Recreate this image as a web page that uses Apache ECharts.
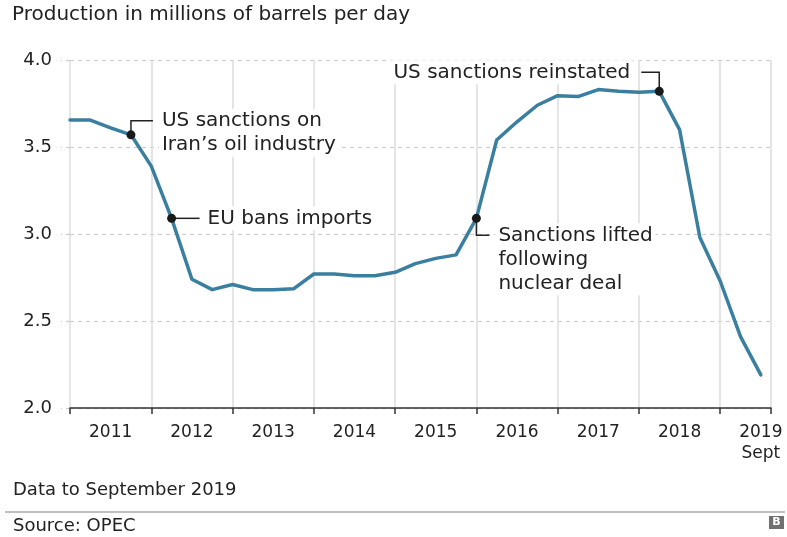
<!DOCTYPE html>
<html>
<head>
<meta charset="utf-8">
<title>Iran oil production</title>
<script src="https://cdn.jsdelivr.net/npm/echarts@6/dist/echarts.min.js"></script>
<style>
  html, body { margin: 0; padding: 0; background: #ffffff; }
  #chart { width: 787px; height: 537px; }
</style>
</head>
<body>
<div id="chart"></div>
<script>
// Quarterly crude production, Q1 2011 to Q3 2019 (millions of barrels per day)
var quarters = [
  'Q1 2011', 'Q2 2011', 'Q3 2011', 'Q4 2011',
  'Q1 2012', 'Q2 2012', 'Q3 2012', 'Q4 2012',
  'Q1 2013', 'Q2 2013', 'Q3 2013', 'Q4 2013',
  'Q1 2014', 'Q2 2014', 'Q3 2014', 'Q4 2014',
  'Q1 2015', 'Q2 2015', 'Q3 2015', 'Q4 2015',
  'Q1 2016', 'Q2 2016', 'Q3 2016', 'Q4 2016',
  'Q1 2017', 'Q2 2017', 'Q3 2017', 'Q4 2017',
  'Q1 2018', 'Q2 2018', 'Q3 2018', 'Q4 2018',
  'Q1 2019', 'Q2 2019', 'Q3 2019'
];
var production = [
  3.655, 3.655, 3.61, 3.57,
  3.39, 3.09, 2.74, 2.68,
  2.71, 2.68, 2.68, 2.685,
  2.77, 2.77, 2.76, 2.76,
  2.78, 2.83, 2.86, 2.88,
  3.09, 3.54, 3.645, 3.74,
  3.795, 3.79, 3.83, 3.82,
  3.815, 3.82, 3.60, 2.98,
  2.73, 2.41, 2.19
];

// Year labels sit in the middle of each year (third quarter position)
var yearLabels = ['2011', '2012', '2013', '2014', '2015', '2016', '2017', '2018', '2019\nSept'];
var yTicks = [2.0, 2.5, 3.0, 3.5, 4.0];

// Events marked on the line, by quarter
var eventQuarters = ['Q4 2011', 'Q2 2012', 'Q1 2016', 'Q2 2018'];
var eventTexts = [
  'US sanctions on\nIran\u2019s oil industry',
  'EU bans imports',
  'Sanctions lifted\nfollowing\nnuclear deal',
  'US sanctions reinstated'
];
var eventSides = ['upRight', 'right', 'downRight', 'upLeft'];

var FONT = "'DejaVu Sans', sans-serif";
var LINE_COLOR = '#3a7f9f';

var lineData = production.map(function (v, i) { return [i, v]; });
var eventData = eventQuarters.map(function (q, k) {
  var i = quarters.indexOf(q);
  return [i, production[i], k];
});

function renderEvent(params, api) {
  var k = api.value(2);
  var p = api.coord([api.value(0), api.value(1)]);
  var side = eventSides[k];
  var text = eventTexts[k];
  var lh = 24;
  var pts, tx, ty, align;
  if (side === 'upRight') {
    pts = [[p[0], p[1]], [p[0], p[1] - 14], [p[0] + 22, p[1] - 14]];
    tx = p[0] + 28; ty = p[1] - 14 - lh / 2; align = 'left';
  } else if (side === 'right') {
    pts = [[p[0], p[1]], [p[0] + 28, p[1]]];
    tx = p[0] + 33; ty = p[1] - lh / 2; align = 'left';
  } else if (side === 'downRight') {
    pts = [[p[0], p[1]], [p[0], p[1] + 17], [p[0] + 13, p[1] + 17]];
    tx = p[0] + 19; ty = p[1] + 17 - lh / 2; align = 'left';
  } else {
    pts = [[p[0], p[1]], [p[0], p[1] - 19], [p[0] - 18, p[1] - 19]];
    tx = p[0] - 26; ty = p[1] - 19 - lh / 2; align = 'right';
  }
  return {
    type: 'group',
    children: [
      {
        type: 'text',
        z2: 1,
        style: {
          x: tx, y: ty, text: text,
          font: '20px ' + FONT,
          fill: '#222',
          align: align,
          verticalAlign: 'top',
          lineHeight: lh,
          backgroundColor: '#ffffff',
          padding: [0, 3, 0, 3]
        }
      },
      {
        type: 'polyline',
        z2: 2,
        shape: { points: pts },
        style: { stroke: '#222', lineWidth: 1.5, fill: null }
      },
      {
        type: 'circle',
        z2: 3,
        shape: { cx: p[0], cy: p[1], r: 4.5 },
        style: { fill: '#1a1a1a' }
      }
    ]
  };
}

var chart = echarts.init(document.getElementById('chart'), null, { renderer: 'canvas' });

chart.setOption({
  animation: false,
  backgroundColor: '#ffffff',
  textStyle: { fontFamily: FONT },
  title: {
    text: 'Production in millions of barrels per day',
    left: 12,
    top: 5,
    padding: 0,
    textStyle: { fontFamily: FONT, fontSize: 20, fontWeight: 'normal', color: '#222' }
  },
  grid: { left: 70, right: 16, top: 60, bottom: 129, containLabel: false },
  xAxis: [
    {
      type: 'value',
      min: 0,
      max: 34.5,
      interval: 4,
      position: 'bottom',
      axisLine: { show: true, lineStyle: { color: '#333', width: 1.5 } },
      axisTick: { show: true, length: 6, lineStyle: { color: '#333', width: 1.5 } },
      axisLabel: { show: false },
      splitLine: { show: true, lineStyle: { color: '#dcdcdc', width: 1.5 } }
    },
    {
      type: 'value',
      min: 0,
      max: 34.5,
      interval: 2,
      position: 'bottom',
      axisLine: { show: false },
      axisTick: { show: false },
      splitLine: { show: false },
      axisLabel: {
        show: true,
        margin: 14,
        fontSize: 17,
        lineHeight: 21,
        color: '#222',
        fontFamily: FONT,
        showMinLabel: true,
        showMaxLabel: true,
        formatter: function (v) {
          if (v % 4 !== 2) return '';
          return yearLabels[(v - 2) / 4] || '';
        }
      }
    }
  ],
  yAxis: {
    type: 'value',
    min: yTicks[0],
    max: yTicks[yTicks.length - 1],
    interval: 0.5,
    axisLine: { show: false },
    axisTick: { show: true, length: 9, lineStyle: { color: '#cccccc', width: 1.2, type: [4, 4] } },
    axisLabel: {
      margin: 18,
      fontSize: 18,
      color: '#222',
      fontFamily: FONT,
      formatter: function (v) { return v.toFixed(1); }
    },
    splitLine: { show: true, lineStyle: { color: '#cccccc', width: 1.2, type: [4, 4] } }
  },
  series: [
    {
      name: 'Production',
      type: 'line',
      xAxisIndex: 0,
      data: lineData,
      symbol: 'none',
      smooth: false,
      z: 3,
      lineStyle: { color: LINE_COLOR, width: 3.5, join: 'round', cap: 'round' }
    },
    {
      name: 'Events',
      type: 'custom',
      xAxisIndex: 0,
      coordinateSystem: 'cartesian2d',
      data: eventData,
      renderItem: renderEvent,
      z: 5,
      silent: true
    }
  ],
  graphic: [
    {
      type: 'text',
      left: 13,
      top: 481,
      style: { text: 'Data to September 2019', font: '18px ' + FONT, fill: '#222' }
    },
    {
      type: 'line',
      shape: { x1: 5, y1: 512, x2: 785, y2: 512 },
      style: { stroke: '#aaaaaa', lineWidth: 1.5 }
    },
    {
      type: 'text',
      left: 13,
      top: 517,
      style: { text: 'Source: OPEC', font: '18px ' + FONT, fill: '#222' }
    },
    {
      type: 'rect',
      shape: { x: 769, y: 516, width: 15, height: 13 },
      style: { fill: '#707070' }
    },
    {
      type: 'text',
      style: {
        x: 776.5, y: 522.5, text: 'B',
        font: 'bold 11px ' + FONT, fill: '#ffffff',
        align: 'center', verticalAlign: 'middle'
      }
    }
  ]
});
</script>
</body>
</html>
